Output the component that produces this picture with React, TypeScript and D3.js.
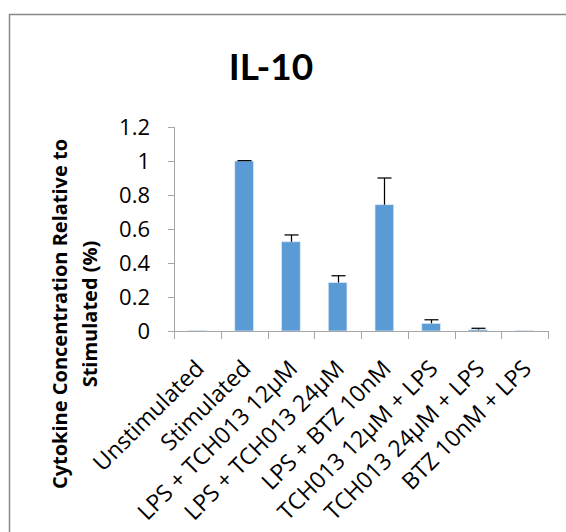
import React from "react";
import * as d3 from "d3";

const categories = [
  "Unstimulated",
  "Stimulated",
  "LPS + TCH013 12μM",
  "LPS + TCH013 24μM",
  "LPS + BTZ 10nM",
  "TCH013 12μM + LPS",
  "TCH013 24μM + LPS",
  "BTZ 10nM + LPS",
];
const values = [0.002, 1.0, 0.525, 0.285, 0.743, 0.045, 0.008, 0.002];
const errors = [0, 0.002, 0.04, 0.04, 0.157, 0.021, 0.008, 0];
const yTicks = [0, 0.2, 0.4, 0.6, 0.8, 1, 1.2];
const title = "IL-10";
const yTitle = ["Cytokine Concentration Relative to", "Stimulated (%)"];

const W = 566;
const H = 532;
const FONT = "'Open Sans', Lato, sans-serif";
const TITLE_FONT = "Lato, 'Open Sans', sans-serif";

export default function App() {
  const x0 = 174;
  const x1 = 548;
  const yTop = 127;
  const yBot = 331;

  const x = d3.scaleBand<string>().domain(categories).range([x0, x1]).paddingInner(0.6).paddingOuter(0.3);
  const xb = d3.scaleBand<string>().domain(categories).range([x0, x1]);
  const y = d3.scaleLinear().domain([0, 1.2]).range([yBot, yTop]);

  const barColor = "#5b9bd5";
  const axisColor = "#a6a6a6";

  return (
    <svg width={W} height={H} style={{ position: "absolute", left: 0, top: 0, display: "block" }}>
      <rect x={0} y={0} width={W} height={H} fill="#ffffff" />
      <rect x={9.5} y={14.5} width={W + 20} height={H + 20} fill="none" stroke="#878787" strokeWidth={1.5} />

      <text x={271} y={80} textAnchor="middle" fontFamily={TITLE_FONT} fontWeight="bold" fontSize={37} fill="#000">
        {title}
      </text>

      {/* y axis */}
      <line x1={x0 + 0.5} x2={x0 + 0.5} y1={yTop} y2={yBot} stroke={axisColor} />
      {yTicks.map((t) => (
        <g key={t}>
          <line x1={x0 - 6} x2={x0} y1={Math.round(y(t)) + 0.5} y2={Math.round(y(t)) + 0.5} stroke={axisColor} />
          <text x={150} y={y(t)} dy="0.36em" textAnchor="end" fontFamily={FONT} fontSize={22} fill="#000">
            {d3.format("~g")(t)}
          </text>
        </g>
      ))}

      {/* bars */}
      {categories.map((c, i) => {
        const bx = x(c)!;
        const bw = x.bandwidth();
        const top = y(values[i]);
        return (
          <rect key={c} x={bx} y={top} width={bw} height={yBot - top} fill={barColor} stroke="#dbe8f5" strokeWidth={0.75} />
        );
      })}

      {/* error bars */}
      {categories.map((c, i) => {
        if (errors[i] <= 0) return null;
        const cx = Math.round(x(c)! + x.bandwidth() / 2) + 0.5;
        const top = y(values[i]);
        const et = y(values[i] + errors[i]);
        return (
          <g key={c} stroke="#000" strokeWidth={1.25}>
            <line x1={cx} x2={cx} y1={top} y2={et} />
            <line x1={cx - 7} x2={cx + 7} y1={et} y2={et} />
          </g>
        );
      })}

      {/* x axis */}
      <line x1={x0} x2={x1} y1={yBot + 0.5} y2={yBot + 0.5} stroke={axisColor} />
      {[...categories.map((c) => xb(c)!), x1].map((t, i) => (
        <line key={i} x1={Math.round(t) + 0.5} x2={Math.round(t) + 0.5} y1={yBot} y2={yBot + 8} stroke={axisColor} />
      ))}
      {categories.map((c) => {
        const cx = xb(c)! + xb.bandwidth() / 2;
        const px = cx + 8;
        const py = 370;
        return (
          <text
            key={c}
            transform={`translate(${px},${py}) rotate(-45)`}
            textAnchor="end"
            fontFamily={FONT}
            fontSize={23}
            fill="#000"
          >
            {c}
          </text>
        );
      })}

      {/* y axis title */}
      {yTitle.map((line, i) => (
        <text
          key={i}
          transform={`translate(${67 + i * 30},314) rotate(-90)`}
          textAnchor="middle"
          fontFamily={FONT}
          fontWeight="bold"
          fontSize={20}
          fill="#000"
        >
          {line}
        </text>
      ))}
    </svg>
  );
}
